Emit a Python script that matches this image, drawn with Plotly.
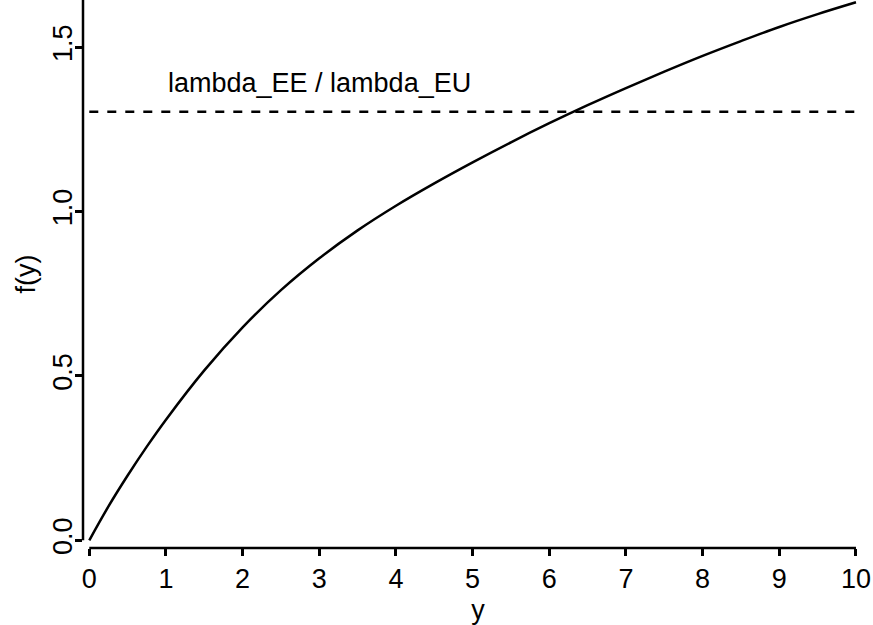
import plotly.graph_objects as go

# Data
y_vals = [0, 0.25, 0.5, 0.75, 1, 1.5, 2, 2.5, 3, 3.5, 4, 4.5, 5, 5.5, 6, 6.5, 7, 7.5, 8, 8.5, 9, 9.5, 10]
f_vals = [0, 0.103, 0.197, 0.285, 0.367, 0.517, 0.648, 0.761, 0.858, 0.943, 1.018, 1.086, 1.150,
          1.211, 1.269, 1.324, 1.376, 1.426, 1.474, 1.519, 1.562, 1.601, 1.637]
ratio_x = [0, 10]
ratio_value = 1.304
ratio_label = "lambda_EE / lambda_EU"
x_ticks = [0, 1, 2, 3, 4, 5, 6, 7, 8, 9, 10]
y_ticks = [0.0, 0.5, 1.0, 1.5]
y_tick_text = ["0.0", "0.5", "1.0", "1.5"]

FONT = "Liberation Sans, Arial, sans-serif"
FS = 27
LW = 2.5

fig = go.Figure()
fig.add_trace(go.Scatter(x=y_vals, y=f_vals, mode="lines",
                         line=dict(color="black", width=LW, shape="spline", smoothing=1.0),
                         showlegend=False, hoverinfo="skip"))
fig.add_trace(go.Scatter(x=ratio_x, y=[ratio_value] * len(ratio_x), mode="lines",
                         line=dict(color="black", width=LW, dash="9px,9px"),
                         showlegend=False, hoverinfo="skip"))

fig.add_annotation(x=3, y=1.39, text=ratio_label, showarrow=False,
                   xanchor="center", yanchor="middle",
                   font=dict(family=FONT, size=FS, color="black"))

# R-style axis lines
fig.add_shape(type="line", xref="x", yref="paper", x0=x_ticks[0], x1=x_ticks[-1], y0=0, y1=0,
              line=dict(color="black", width=LW))
fig.add_shape(type="line", xref="paper", yref="y", x0=0, x1=0, y0=y_ticks[0], y1=1.644,
              line=dict(color="black", width=LW))

fig.update_layout(
    width=873, height=625,
    margin=dict(l=83, r=0, t=0, b=77),
    paper_bgcolor="white", plot_bgcolor="white",
    font=dict(family=FONT, size=FS, color="black"),
    xaxis=dict(range=[-0.082, 10.222], tickvals=x_ticks, ticks="outside", ticklen=7,
               tickwidth=LW, tickcolor="black", showgrid=False, zeroline=False,
               showline=False, tickfont=dict(size=FS),
               title=dict(text="y", font=dict(size=FS), standoff=6)),
    yaxis=dict(range=[-0.0235, 1.644], tickvals=y_ticks, ticktext=y_tick_text,
               ticks="outside", ticklen=7, tickwidth=LW, tickcolor="black",
               showgrid=False, zeroline=False, showline=False, tickangle=-90,
               ticklabelstandoff=-8,
               tickfont=dict(size=FS),
               title=dict(text="f(y)", font=dict(size=FS), standoff=4)),
)

fig.write_html("out.html")
